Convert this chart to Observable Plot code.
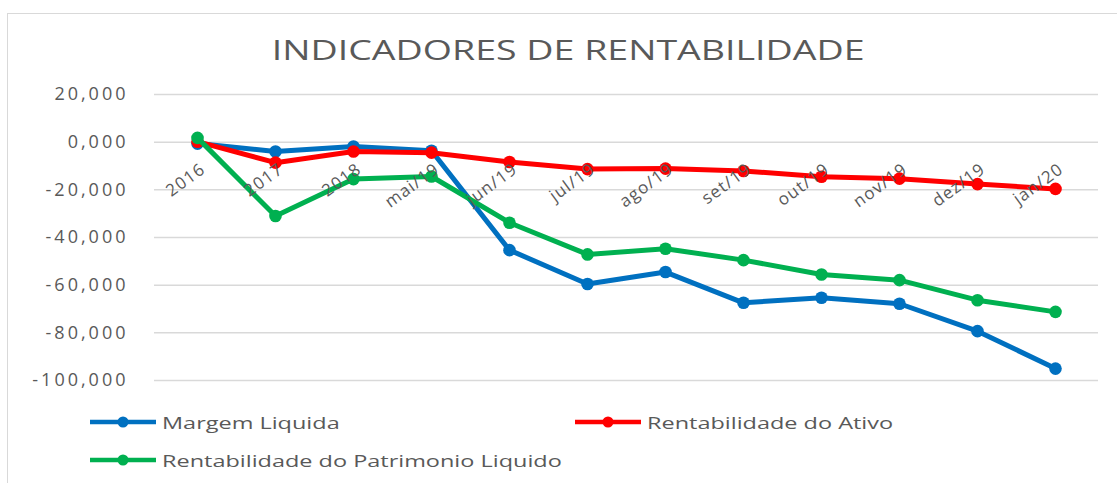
<!DOCTYPE html>
<html><head><meta charset="utf-8">
<script src="https://cdn.jsdelivr.net/npm/d3@7"></script>
<script src="https://cdn.jsdelivr.net/npm/@observablehq/plot@0.6"></script>
<style>
html,body{margin:0;padding:0;background:#fff;overflow:hidden;}
#wrap{position:relative;width:1117px;height:483px;overflow:hidden;font-family:"Open Sans",sans-serif;color:#595959;}
#frame{position:absolute;left:7px;top:13px;width:1200px;height:600px;border:1.5px solid #d9d9d9;box-sizing:border-box;}
#title{position:absolute;left:10px;top:35px;width:1117px;text-align:center;line-height:1;}
#title span{display:inline-block;transform:scaleX(1.34);transform-origin:center;font-size:28px;font-weight:400;color:#595959;}
#chart{position:absolute;left:0;top:70px;}
#legend{position:absolute;left:90px;top:410px;display:grid;grid-template-columns:485px auto;row-gap:14px;}
.item{display:flex;align-items:center;height:24px;}
.item svg{flex:none;}
.item span{display:inline-block;margin-left:6px;font-size:17px;transform:scaleX(1.38);transform-origin:left center;white-space:nowrap;color:#595959;}
</style>
</head><body>
<div id="wrap">
  <div id="frame"></div>
  <div id="title"><span>INDICADORES DE RENTABILIDADE</span></div>
  <div id="chart"></div>
  <div id="legend"></div>
</div>
<script>
const categories = ["2016","2017","2018","mai/19","jun/19","jul/19","ago/19","set/19","out/19","nov/19","dez/19","jan/20"];
const seriesNames = ["Margem Liquida","Rentabilidade do Ativo","Rentabilidade do Patrimonio Liquido"];
const seriesColors = ["#0070C0","#FF0000","#00B050"];
const margemLiquida = [-0.6, -3.9, -1.8, -3.6, -45.3, -59.5, -54.5, -67.4, -65.3, -67.8, -79.3, -95.0];
const rentAtivo = [0.2, -8.6, -3.9, -4.4, -8.3, -11.3, -11.1, -12.1, -14.5, -15.3, -17.6, -19.6];
const rentPatrimonio = [1.8, -31.0, -15.5, -14.4, -33.8, -47.1, -44.7, -49.5, -55.5, -57.9, -66.3, -71.2];
const yTicks = [20, 0, -20, -40, -60, -80, -100];

const seriesValues = [margemLiquida, rentAtivo, rentPatrimonio];
const fmt = v => d3.format(".3f")(v).replace(".", ",").replace("\u2212", "-");

const marks = [Plot.ruleY(yTicks, {stroke: "#d9d9d9", strokeWidth: 1.5})];
seriesNames.forEach((name, i) => {
  const rows = categories.map((c, j) => ({cat: c, value: seriesValues[i][j], series: name}));
  marks.push(Plot.line(rows, {x: "cat", y: "value", stroke: "series", strokeWidth: 5, strokeLinejoin: "round", strokeLinecap: "round"}));
  marks.push(Plot.dot(rows, {x: "cat", y: "value", fill: "series", r: 6.3}));
});
marks.push(Plot.text(categories, {x: d => d, y: d => 0, text: d => d, rotate: -36, textAnchor: "end", dx: 6, dy: 25, fontSize: 17, fill: "#595959"}));

const chart = Plot.plot({
  width: 1117,
  height: 340,
  marginTop: 24,
  marginBottom: 30,
  marginLeft: 154,
  marginRight: 19,
  style: {fontFamily: "Open Sans, sans-serif", fontSize: "18px", color: "#595959", background: "transparent"},
  x: {type: "point", domain: categories, padding: 0.5, axis: null},
  y: {domain: [-100, 20], ticks: yTicks, tickFormat: fmt, tickSize: 0, tickPadding: 26, label: null},
  color: {domain: seriesNames, range: seriesColors},
  marks
});
document.getElementById("chart").appendChild(chart);
d3.select(chart).selectAll("g[aria-label='y-axis tick label'] text, g[aria-label='y-axis'] text").attr("letter-spacing", "3px");
d3.select(chart).selectAll("g[aria-label='text'] text").attr("letter-spacing", "1.2px");

const legend = d3.select("#legend");
const order = [0, 1, 2];
order.forEach(i => {
  const item = legend.append("div").attr("class", "item");
  const sw = item.append("svg").attr("width", 66).attr("height", 14);
  sw.append("line").attr("x1", 0).attr("x2", 66).attr("y1", 7).attr("y2", 7).attr("stroke", seriesColors[i]).attr("stroke-width", 4.5).attr("stroke-linecap", "round");
  sw.append("circle").attr("cx", 33).attr("cy", 7).attr("r", 5.5).attr("fill", seriesColors[i]);
  item.append("span").text(seriesNames[i]);
});
</script>
</body></html>
